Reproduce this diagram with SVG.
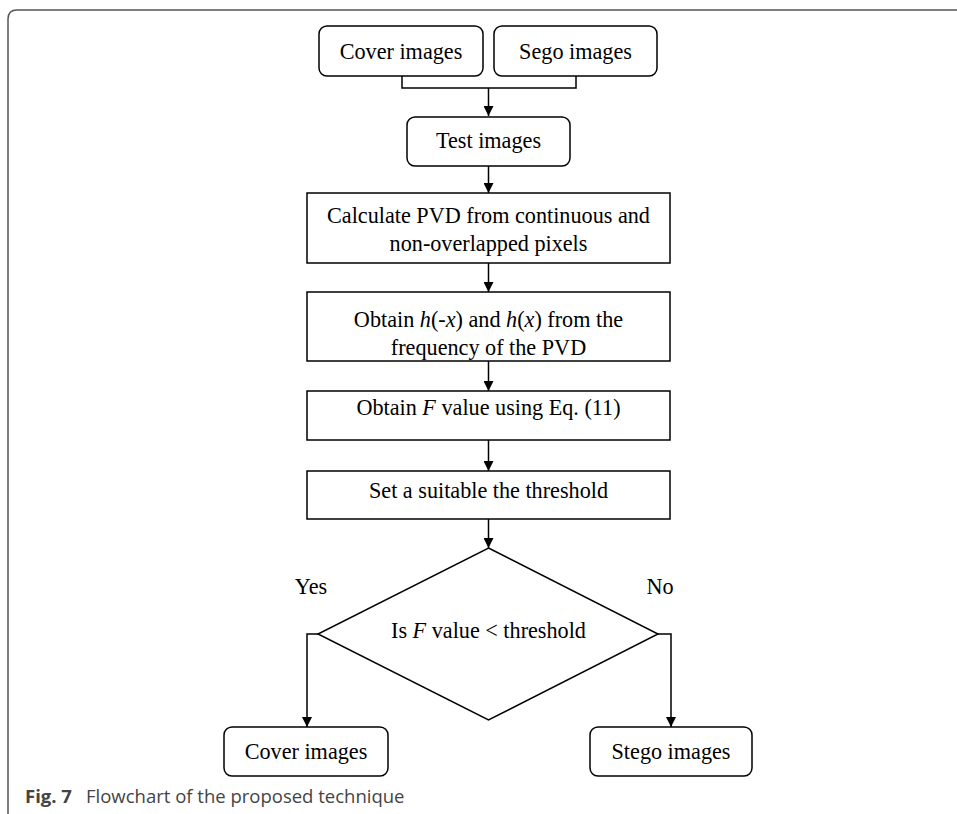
<svg xmlns="http://www.w3.org/2000/svg" width="957" height="814" viewBox="0 0 957 814">
<style>
.box{fill:#fff;stroke:#000;stroke-width:1.5}
.t{font-family:"Liberation Serif","Times New Roman",serif;font-size:22.2px;fill:#000;text-anchor:middle}
.ln{fill:none;stroke:#000;stroke-width:1.5}
.cap{font-family:"Open Sans","Noto Sans",sans-serif;font-size:18.5px;fill:#444}
</style>
<defs>
<marker id="ah" viewBox="0 0 10 10" refX="10" refY="5" markerWidth="10" markerHeight="10" markerUnits="userSpaceOnUse" orient="auto">
<path d="M0,0 L10,5 L0,10 Z" fill="#000"/>
</marker>
</defs>
<rect width="957" height="814" fill="#fff"/>
<path d="M8,814 V19 Q8,10 17,10 H957" fill="none" stroke="#555" stroke-width="1.5"/>
<g id="connectors">
<path class="ln" d="M402,76 V88 H576 V76"/>
<path class="ln" d="M488.5,88 V116" marker-end="url(#ah)"/>
<path class="ln" d="M488.5,166 V193" marker-end="url(#ah)"/>
<path class="ln" d="M488.5,263 V292" marker-end="url(#ah)"/>
<path class="ln" d="M488.5,361 V391" marker-end="url(#ah)"/>
<path class="ln" d="M488.5,440 V471" marker-end="url(#ah)"/>
<path class="ln" d="M488.5,519 V548" marker-end="url(#ah)"/>
<path class="ln" d="M318,634 H307 V727" marker-end="url(#ah)"/>
<path class="ln" d="M658,634 H671 V727" marker-end="url(#ah)"/>
</g>
<g id="cover-in">
<rect class="box" x="319" y="26" width="164" height="50" rx="8"/>
<text class="t" x="401" y="59">Cover images</text>
</g>
<g id="sego-in">
<rect class="box" x="494" y="26" width="163" height="50" rx="8"/>
<text class="t" x="575.5" y="59">Sego images</text>
</g>
<g id="test">
<rect class="box" x="407" y="117" width="163" height="49" rx="8"/>
<text class="t" x="488.5" y="148">Test images</text>
</g>
<g id="calc">
<rect class="box" x="307" y="193" width="363" height="70"/>
<text class="t" x="488.5" y="223">Calculate PVD from continuous and</text>
<text class="t" x="488.5" y="251">non-overlapped pixels</text>
</g>
<g id="obtain-h">
<rect class="box" x="307" y="292" width="363" height="69"/>
<text class="t" x="488.5" y="327">Obtain <tspan font-style="italic">h</tspan>(-<tspan font-style="italic">x</tspan>) and <tspan font-style="italic">h</tspan>(<tspan font-style="italic">x</tspan>) from the</text>
<text class="t" x="488.5" y="355">frequency of the PVD</text>
</g>
<g id="obtain-f">
<rect class="box" x="307" y="391" width="363" height="49"/>
<text class="t" x="488.5" y="415">Obtain <tspan font-style="italic">F</tspan> value using Eq. (11)</text>
</g>
<g id="set">
<rect class="box" x="307" y="471" width="363" height="48"/>
<text class="t" x="488.5" y="498">Set a suitable the threshold</text>
</g>
<g id="decision">
<polygon class="box" points="488.5,548 658,634 488.5,720 318,634"/>
<text class="t" x="488.5" y="638">Is <tspan font-style="italic">F</tspan> value &lt; threshold</text>
<text class="t" x="311" y="594">Yes</text>
<text class="t" x="660" y="594">No</text>
</g>
<g id="cover-out">
<rect class="box" x="224" y="727" width="164" height="49" rx="8"/>
<text class="t" x="306" y="759">Cover images</text>
</g>
<g id="stego-out">
<rect class="box" x="590" y="727" width="162" height="49" rx="8"/>
<text class="t" x="671" y="759">Stego images</text>
</g>
<text class="cap" x="25" y="803" font-weight="bold" fill="#000">Fig. 7</text>
<text class="cap" x="86" y="803">Flowchart of the proposed technique</text>
</svg>
